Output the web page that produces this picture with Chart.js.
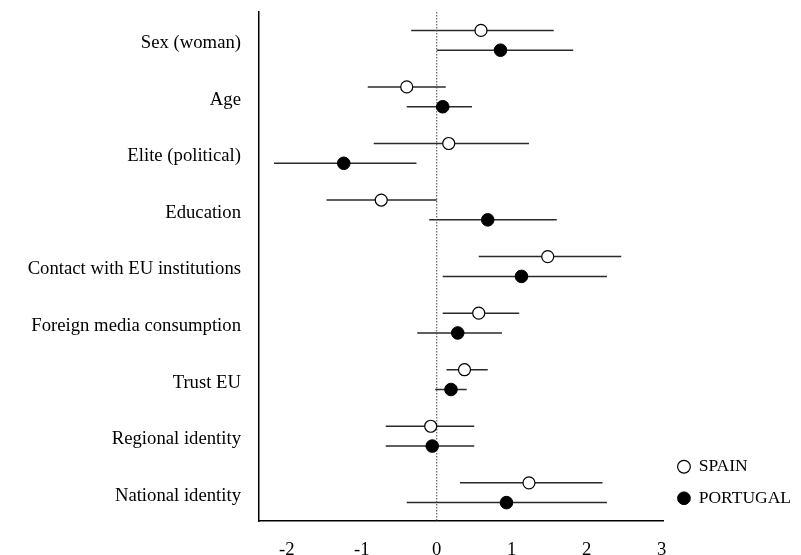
<!DOCTYPE html>
<html>
<head>
<meta charset="utf-8">
<script src="https://cdn.jsdelivr.net/npm/chart.js@4.4.1/dist/chart.umd.min.js"></script>
<style>
  html, body { margin: 0; padding: 0; background: #fff; }
  #wrap { width: 801px; height: 555px; }
</style>
</head>
<body>
<div id="wrap"><canvas id="myChart" width="801" height="555"></canvas></div>
<script>
const categories = ['Sex (woman)', 'Age', 'Elite (political)', 'Education', 'Contact with EU institutions',
    'Foreign media consumption', 'Trust EU', 'Regional identity', 'National identity'];
const spainEst = [0.59, -0.40, 0.16, -0.74, 1.48, 0.56, 0.37, -0.08, 1.23];
const spainLo = [-0.34, -0.92, -0.84, -1.47, 0.56, 0.08, 0.13, -0.68, 0.31];
const spainHi = [1.56, 0.12, 1.23, 0.00, 2.46, 1.10, 0.68, 0.50, 2.21];
const portugalEst = [0.85, 0.08, -1.24, 0.68, 1.13, 0.28, 0.19, -0.06, 0.93];
const portugalLo = [0.00, -0.40, -2.17, -0.10, 0.08, -0.26, -0.02, -0.68, -0.40];
const portugalHi = [1.82, 0.47, -0.27, 1.60, 2.27, 0.87, 0.40, 0.50, 2.27];
const xTicks = [-2, -1, 0, 1, 2, 3];

const serif = 'Liberation Serif';
const shift = 0.175; // vertical offset of each country inside a row

function points(est, lo, hi, dy) {
    return est.map((v, i) => ({ x: v, y: i + dy, lo: lo[i], hi: hi[i] }));
}

// horizontal confidence intervals, drawn under the points
const errorBars = {
    id: 'errorBars',
    beforeDatasetsDraw(chart) {
        const { ctx, scales: { x, y } } = chart;
        ctx.save();
        ctx.strokeStyle = '#2a2a2a';
        ctx.lineWidth = 1.5;
        chart.data.datasets.forEach(ds => {
            if (!ds.isCountry) return;
            ds.data.forEach(p => {
                const py = y.getPixelForValue(p.y);
                ctx.beginPath();
                ctx.moveTo(x.getPixelForValue(p.lo), py);
                ctx.lineTo(x.getPixelForValue(p.hi), py);
                ctx.stroke();
            });
        });
        ctx.restore();
    }
};

const ctx = document.getElementById('myChart').getContext('2d');
const myChart = new Chart(ctx, {
    type: 'scatter',
    data: {
        datasets: [{
            label: 'SPAIN',
            isCountry: true,
            data: points(spainEst, spainLo, spainHi, -shift),
            backgroundColor: '#fff',
            borderColor: '#000',
            borderWidth: 1.2,
            pointRadius: 6,
            order: 1
        }, {
            label: 'PORTUGAL',
            isCountry: true,
            data: points(portugalEst, portugalLo, portugalHi, shift),
            backgroundColor: '#000',
            borderColor: '#000',
            borderWidth: 1,
            pointRadius: 6.3,
            order: 2
        }, {
            label: 'zero',
            data: [{ x: 0, y: -0.5 }, { x: 0, y: categories.length - 0.5 }],
            showLine: true,
            borderColor: '#444',
            borderWidth: 1,
            borderDash: [1.5, 1.5],
            pointRadius: 0,
            order: 3
        }]
    },
    options: {
        responsive: false,
        animation: false,
        layout: { padding: { left: 27, top: 12, right: 0, bottom: 0 } },
        plugins: {
            tooltip: { enabled: false },
            legend: {
                position: 'right',
                align: 'end',
                fullSize: false,
                labels: {
                    filter: item => item.text !== 'zero',
                    usePointStyle: true,
                    pointStyle: 'circle',
                    boxWidth: 12,
                    boxHeight: 9,
                    padding: 14,
                    color: '#000',
                    font: { family: serif, size: 17.5 }
                }
            }
        },
        scales: {
            x: {
                type: 'linear',
                min: -2.37,
                max: 3.03,
                afterBuildTicks: axis => { axis.ticks = xTicks.map(v => ({ value: v })); },
                afterFit: axis => { axis.height = 34; },
                grid: { display: false, drawTicks: false },
                border: { display: true, color: '#000', width: 1.5 },
                ticks: { color: '#000', padding: 18, font: { family: serif, size: 18.7 } }
            },
            y: {
                type: 'linear',
                reverse: true,
                min: -0.5,
                max: categories.length - 0.5,
                afterBuildTicks: axis => { axis.ticks = categories.map((c, i) => ({ value: i })); },
                afterFit: axis => {
                    axis.width = 232;
                    axis.paddingTop = 0;
                    axis.paddingBottom = 0;
                },
                grid: { display: false, drawTicks: false },
                border: { display: true, color: '#000', width: 1.5 },
                ticks: {
                    color: '#000',
                    padding: 18,
                    labelOffset: 3,
                    font: { family: serif, size: 18.7 },
                    callback: v => categories[v] ?? ''
                }
            }
        }
    },
    plugins: [errorBars]
});
</script>
</body>
</html>
